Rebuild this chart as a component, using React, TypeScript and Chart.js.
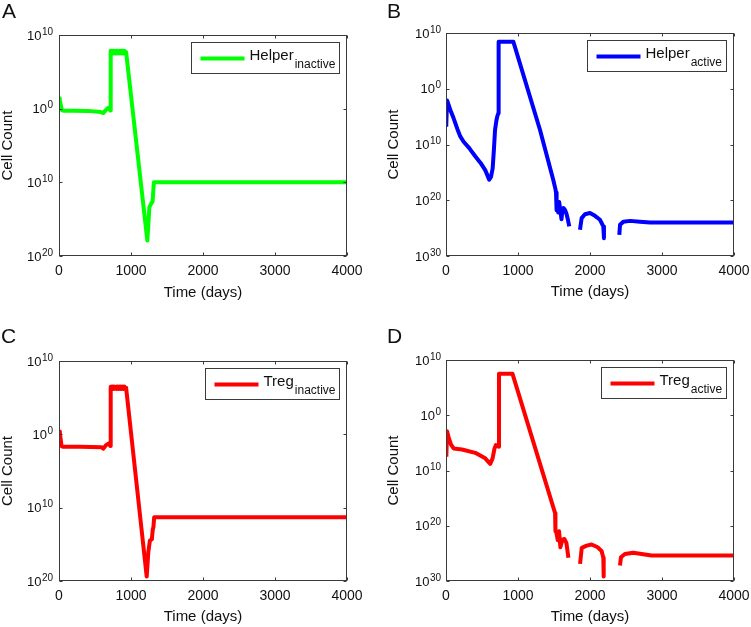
import React, { useEffect, useRef } from 'react';
import { Chart, registerables } from 'chart.js';

Chart.register(...registerables);

const FONT = '"Liberation Sans", Arial, Helvetica, sans-serif';

// ---------- axis ticks ----------
const xTickValues = [0, 1000, 2000, 3000, 4000];
const yExpsInactive = [10, 0, -10, -20];
const yLabelsInactive = ['10', '0', '10', '20'];
const yExpsActive = [10, 0, -10, -20, -30];
const yLabelsActive = ['10', '0', '10', '20', '30'];

// ---------- A: Helper inactive (days, log10 of cell count) ----------
const helperInactiveDays = [0, 10, 40, 60, 200, 400, 580, 615, 650, 680, 700, 712,
  718, 730, 742, 754, 766, 778, 790, 802, 814, 826, 838, 850, 862, 874, 886, 898, 910, 922, 932,
  1227, 1255, 1285, 1300, 1318, 4000];
const helperInactiveExp = [1.4, 1.2, -0.2, -0.27, -0.27, -0.3, -0.45, -0.6, -0.2, 0.1, 0.05, -0.25,
  7.85, 7.5, 7.85, 7.5, 7.85, 7.5, 7.85, 7.5, 7.85, 7.5, 7.85, 7.5, 7.85, 7.5, 7.85, 7.5, 7.85, 7.5, 7.7,
  -17.9, -13.4, -12.8, -12.6, -10.0, -10.0];

// ---------- B: Helper active ----------
const helperActiveDays = [3, 15, 60, 106, 160, 200, 245, 320, 406, 480,
  545, 600, 625, 648, 665, 681, 700, 713, 727, 731,
  935, 1306, 1491, 1520, 1528, 1532, 1540, 1558, 1572, 1590,
  1604, 1615, 1632, 1655, 1675, 1695, 1712, 1780, 1861, 1884,
  1930, 2000, 2069, 2139, 2185, 2194, 2300, 2407, 2417, 2463,
  2556, 2694, 2833, 4000];
const helperActiveExp = [-6.8, -2.1, -3.8, -5.3, -7.3, -8.6, -9.5, -10.6, -12.1, -13.3,
  -14.6, -16.3, -15.8, -14.3, -11.0, -7.4, -5.7, -4.9, -4.4, 8.45,
  8.45, -7.4, -16.4, -18.0, -18.6, -21.8, -20.0, -22.2, -20.3, -22.0,
  -23.4, -22.0, -21.4, -21.8, -22.5, -23.6, -24.7, null, -25.3, -23.2,
  -22.5, -22.3, -22.8, -23.5, -24.7, -26.8, null, -26.2, -24.4, -23.85,
  -23.7, -23.85, -24.0, -24.0];

// ---------- C: Treg inactive ----------
const tregInactiveDays = [0, 12, 35, 60, 300, 590, 616, 650, 685, 700, 712,
  718, 730, 742, 754, 766, 778, 790, 802, 814, 826, 838, 850, 862, 874, 886, 898, 910, 922, 932,
  1218, 1241, 1262, 1290, 1302, 1312, 1322, 4000];
const tregInactiveExp = [0.4, 0.2, -1.6, -1.7, -1.7, -1.75, -1.95, -1.5, -1.25, -1.4, -1.6,
  6.5, 6.2, 6.5, 6.2, 6.5, 6.2, 6.5, 6.2, 6.5, 6.2, 6.5, 6.2, 6.5, 6.2, 6.5, 6.2, 6.5, 6.2, 6.35,
  -19.4, -16.0, -14.5, -14.3, -13.0, -12.6, -11.3, -11.3];

// ---------- D: Treg active ----------
const tregActiveDays = [5, 15, 40, 70, 106, 222, 406, 545, 614, 647,
  674, 693, 712, 730, 736, 924, 1515, 1520, 1530, 1552,
  1570, 1589, 1617, 1644, 1672, 1700, 1780, 1862, 1885, 1954,
  2023, 2106, 2162, 2185, 2190, 2300, 2416, 2430, 2485, 2600,
  2716, 2855, 4000];
const tregActiveExp = [-7.5, -2.9, -4.2, -5.3, -6.0, -6.2, -6.8, -7.8, -8.8, -7.8,
  -6.0, -5.4, -5.5, -5.7, 7.5, 7.5, -17.7, -21.0, -21.0, -22.6,
  -21.0, -23.9, -22.5, -22.4, -23.1, -25.8, null, -26.9, -24.0, -23.6,
  -23.4, -23.9, -24.6, -25.8, -29.2, null, -27.2, -25.7, -25.1, -24.9,
  -25.1, -25.4, -25.4];

const framePlugin = {
  id: 'matlabFrame',
  afterDraw(chart: any, _args: any, opts: any) {
    const { ctx, chartArea: a } = chart;
    const xs = chart.scales.x;
    const ys = chart.scales.y;
    ctx.save();
    const L = Math.round(a.left) + 0.5;
    const R = Math.round(a.right) - 0.5;
    const T = Math.round(a.top) + 0.5;
    const B = Math.round(a.bottom) - 0.5;
    ctx.strokeStyle = '#3a3a3a';
    ctx.lineWidth = 1;
    ctx.strokeRect(L, T, R - L, B - T);
    ctx.beginPath();
    for (const v of opts.xTicks) {
      const px = Math.round(xs.getPixelForValue(v)) + 0.5;
      ctx.moveTo(px, B); ctx.lineTo(px, B - 3);
      ctx.moveTo(px, T); ctx.lineTo(px, T + 3);
    }
    for (const e of opts.yExps) {
      const py = Math.round(ys.getPixelForValue(Math.pow(10, e))) + 0.5;
      ctx.moveTo(L, py); ctx.lineTo(L + 3, py);
      ctx.moveTo(R, py); ctx.lineTo(R - 3, py);
    }
    ctx.stroke();

    // y tick labels: 10 with superscript exponent
    ctx.fillStyle = '#111';
    ctx.textBaseline = 'alphabetic';
    opts.yExps.forEach((e: number, i: number) => {
      const py = ys.getPixelForValue(Math.pow(10, e));
      const sup = opts.yLabels[i];
      const right = a.left - opts.labelGap;
      ctx.font = `10px ${FONT}`;
      const wExp = ctx.measureText(sup).width;
      ctx.textAlign = 'left';
      ctx.fillText(sup, right - wExp, py - 0.5);
      ctx.font = `13px ${FONT}`;
      ctx.textAlign = 'right';
      ctx.fillText('10', right - wExp - 0.5, py + 4.5);
    });

    // legend
    const lg = opts.legend;
    ctx.font = `15px ${FONT}`;
    const wMain = ctx.measureText(lg.main).width;
    ctx.font = `12px ${FONT}`;
    const wSub = ctx.measureText(lg.sub).width;
    const boxW = Math.round(9 + 44 + 5 + wMain + 1 + wSub + 4);
    const boxH = 31;
    const bx = Math.round(a.right - 8 - boxW) + 0.5;
    const by = Math.round(a.top + 7) + 0.5;
    ctx.fillStyle = '#fff';
    ctx.fillRect(bx, by, boxW, boxH);
    ctx.strokeStyle = '#3a3a3a';
    ctx.lineWidth = 1;
    ctx.strokeRect(bx, by, boxW, boxH);
    ctx.strokeStyle = lg.color;
    ctx.lineWidth = 4;
    ctx.beginPath();
    ctx.moveTo(bx + 9, by + 16);
    ctx.lineTo(bx + 53, by + 16);
    ctx.stroke();
    ctx.fillStyle = '#111';
    ctx.textAlign = 'left';
    ctx.font = `15px ${FONT}`;
    ctx.fillText(lg.main, bx + 58, by + 17);
    ctx.font = `12px ${FONT}`;
    ctx.fillText(lg.sub, bx + 58 + wMain + 1, by + 25.5);
    ctx.restore();
  },
};

type PanelProps = {
  days: number[];
  exps: (number | null)[];
  color: string;
  yExps: number[];
  yLabels: string[];
  yMinExp: number;
  legendMain: string;
  legendSub: string;
  left: number;
  top: number;
  width: number;
  height: number;
  yWidth: number;
  xHeight: number;
  padTop: number;
  padRight: number;
  yTitlePad: number;
  xTitlePad: number;
  labelGap: number;
};

function Panel(p: PanelProps) {
  const ref = useRef<HTMLCanvasElement | null>(null);
  useEffect(() => {
    if (!ref.current) return;
    const points = p.days.map((d, i) => ({
      x: d,
      y: p.exps[i] === null ? null : Math.pow(10, p.exps[i] as number),
    }));
    const chart = new Chart(ref.current, {
      type: 'line',
      data: {
        datasets: [
          {
            data: points as any,
            borderColor: p.color,
            backgroundColor: p.color,
            borderWidth: 4,
            pointRadius: 0,
            tension: 0,
            spanGaps: false,
            fill: false,
            borderJoinStyle: 'round',
            borderCapStyle: 'butt',
          },
        ],
      },
      options: {
        responsive: false,
        animation: false,
        events: [],
        layout: { autoPadding: false, padding: { left: 0, top: p.padTop, right: p.padRight, bottom: 0 } },
        plugins: {
          legend: { display: false },
          tooltip: { enabled: false },
          matlabFrame: {
            xTicks: xTickValues,
            yExps: p.yExps,
            yLabels: p.yLabels,
            labelGap: p.labelGap,
            legend: { main: p.legendMain, sub: p.legendSub, color: p.color },
          },
        } as any,
        scales: {
          x: {
            type: 'linear',
            min: 0,
            max: 4000,
            afterBuildTicks: (s: any) => {
              s.ticks = xTickValues.map((v) => ({ value: v }));
            },
            afterFit: (s: any) => {
              s.height = p.xHeight;
              s.paddingLeft = 0;
              s.paddingRight = 0;
            },
            ticks: {
              autoSkip: false,
              maxRotation: 0,
              padding: 7,
              color: '#111',
              font: { family: FONT, size: 14 },
              callback: (v: any) => String(v),
            },
            grid: { display: false, drawTicks: false },
            border: { display: false },
            title: {
              display: true,
              text: 'Time (days)',
              color: '#111',
              font: { family: FONT, size: 15, lineHeight: 1.2 },
              padding: { top: 0, bottom: p.xTitlePad },
            },
          },
          y: {
            type: 'logarithmic',
            min: Math.pow(10, p.yMinExp),
            max: 1e10,
            afterBuildTicks: (s: any) => {
              s.ticks = p.yExps.map((e) => ({ value: Math.pow(10, e) }));
            },
            afterFit: (s: any) => {
              s.width = p.yWidth;
              s.paddingTop = 0;
              s.paddingBottom = 0;
            },
            ticks: { display: false },
            grid: { display: false, drawTicks: false },
            border: { display: false },
            title: {
              display: true,
              text: 'Cell Count',
              color: '#111',
              font: { family: FONT, size: 15, lineHeight: 1 },
              padding: { top: p.yTitlePad, bottom: 0 },
            },
          },
        } as any,
      },
      plugins: [framePlugin],
    });
    return () => chart.destroy();
  }, []);
  return (
    <canvas
      ref={ref}
      width={p.width}
      height={p.height}
      style={{ position: 'absolute', left: p.left, top: p.top, width: p.width, height: p.height, display: 'block' }}
    />
  );
}

const letterStyle = (left: number, top: number): React.CSSProperties => ({
  position: 'absolute',
  left,
  top,
  fontFamily: FONT,
  fontSize: 21,
  lineHeight: '21px',
  color: '#111',
});

export default function App() {
  return (
    <div style={{ position: 'absolute', left: 0, top: 0, width: 751, height: 627, background: '#fff', overflow: 'hidden' }}>
      <Panel
        days={helperInactiveDays} exps={helperInactiveExp} color="#00ff00"
        yExps={yExpsInactive} yLabels={yLabelsInactive} yMinExp={-20}
        legendMain="Helper" legendSub="inactive"
        left={0} top={0} width={375} height={310}
        yWidth={59} xHeight={54} padTop={35} padRight={28} yTitlePad={0} xTitlePad={8} labelGap={6}
      />
      <Panel
        days={helperActiveDays} exps={helperActiveExp} color="#0000ff"
        yExps={yExpsActive} yLabels={yLabelsActive} yMinExp={-30}
        legendMain="Helper" legendSub="active"
        left={375} top={0} width={376} height={310}
        yWidth={71} xHeight={54} padTop={33} padRight={17} yTitlePad={11} xTitlePad={9} labelGap={5}
      />
      <Panel
        days={tregInactiveDays} exps={tregInactiveExp} color="#ff0000"
        yExps={yExpsInactive} yLabels={yLabelsInactive} yMinExp={-20}
        legendMain="Treg" legendSub="inactive"
        left={0} top={310} width={375} height={317}
        yWidth={59} xHeight={46} padTop={51} padRight={28} yTitlePad={0} xTitlePad={1} labelGap={6}
      />
      <Panel
        days={tregActiveDays} exps={tregActiveExp} color="#ff0000"
        yExps={yExpsActive} yLabels={yLabelsActive} yMinExp={-30}
        legendMain="Treg" legendSub="active"
        left={375} top={310} width={376} height={317}
        yWidth={71} xHeight={46} padTop={50} padRight={17} yTitlePad={11} xTitlePad={1} labelGap={5}
      />
      <div style={letterStyle(2, 0)}>A</div>
      <div style={letterStyle(387, 0)}>B</div>
      <div style={letterStyle(1, 325)}>C</div>
      <div style={letterStyle(387, 325)}>D</div>
    </div>
  );
}
